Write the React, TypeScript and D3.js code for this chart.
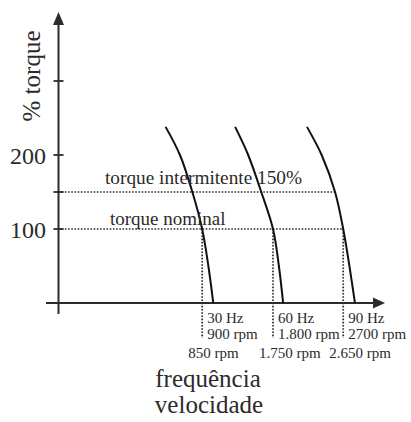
import React from "react";
import * as d3 from "d3";

const W = 411;
const H = 422;
const INK = "#2b2b2b";
const FONT = "'Liberation Serif', 'DejaVu Serif', serif";

// speed axis is schematic: 0..100 arbitrary units along the arrow
const speedDomain = [0, 100];
const torqueDomain = [0, 300];

const yTicks = [100, 150, 200, 300];
const yTickLabels = [
  { value: 200, text: "200" },
  { value: 100, text: "100" },
];

// torque levels of the curves' sample points (%)
const curveTorque = [0, 50, 100, 150, 200, 238];
// speed (units) of each curve at those torque levels
const curve30 = [47.4, 45.9, 44.0, 41.0, 37.2, 32.8];
const curve60 = [68.8, 67.5, 65.7, 62.1, 58.1, 54.1];
const curve90 = [90.8, 89.1, 87.2, 84.7, 80.6, 76.1];
const curves = [curve30, curve60, curve90];

// where each curve meets 100% torque (rated speed)
const ratedSpeed = [44.0, 65.7, 87.2];
const freqLabels = ["30 Hz", "60 Hz", "90 Hz"];
const syncLabels = ["900 rpm", "1.800 rpm", "2700 rpm"];
const ratedLabels = ["850 rpm", "1.750 rpm", "2.650 rpm"];

const intermittentTorque = 150;
const intermittentEnd = 84.7;
const nominalTorque = 100;
const nominalEnd = 87.2;

export default function App() {
  const x = d3.scaleLinear().domain(speedDomain).range([58.5, 385]);
  const y = d3.scaleLinear().domain(torqueDomain).range([303, 81]);

  const line = d3
    .line<[number, number]>()
    .x((d) => x(d[0]))
    .y((d) => y(d[1]))
    .curve(d3.curveCatmullRom.alpha(0.5));

  const x0 = x(0);
  const y0 = y(0);
  const dots = { stroke: INK, strokeWidth: 1.7, strokeDasharray: "1.6 1.6", fill: "none" };

  return (
    <svg
      width={W}
      height={H}
      viewBox={`0 0 ${W} ${H}`}
      style={{ position: "fixed", left: 0, top: 0, background: "#fff" }}
      fontFamily={FONT}
    >
      {/* dotted reference lines */}
      <line x1={x0} x2={x(intermittentEnd)} y1={y(intermittentTorque)} y2={y(intermittentTorque)} {...dots} />
      <line x1={x0} x2={x(nominalEnd)} y1={y(nominalTorque)} y2={y(nominalTorque)} {...dots} />
      {ratedSpeed.map((s, i) => (
        <line key={i} x1={x(s)} x2={x(s)} y1={y(nominalTorque)} y2={y0 + 35} {...dots} />
      ))}

      {/* axes */}
      <line x1={46} x2={x(100) - 8} y1={y0} y2={y0} stroke={INK} strokeWidth={2} />
      <path d={`M${x(100)},${y0} L${x(100) - 12},${y0 - 5.5} L${x(100) - 12},${y0 + 5.5} Z`} fill={INK} />
      <line x1={x0} x2={x0} y1={y0 + 11} y2={22} stroke={INK} strokeWidth={2} />
      <path d={`M${x0},12 L${x0 - 5.5},25 L${x0 + 5.5},25 Z`} fill={INK} />
      {yTicks.map((t) => (
        <line key={t} x1={x0 - 5} x2={x0 + 5} y1={y(t)} y2={y(t)} stroke={INK} strokeWidth={1.8} />
      ))}
      {yTickLabels.map((t) => (
        <text key={t.value} x={46} y={y(t.value) + 9} textAnchor="end" fontSize={24} fill={INK}>
          {t.text}
        </text>
      ))}
      <text transform={`translate(40,76) rotate(-90)`} textAnchor="middle" fontSize={25} fill={INK}>
        % torque
      </text>

      {/* torque-speed curves */}
      {curves.map((c, i) => (
        <path
          key={i}
          d={line(c.map((s, k) => [s, curveTorque[k]] as [number, number])) || ""}
          fill="none"
          stroke="#111"
          strokeWidth={2}
        />
      ))}

      <text x={105} y={184} fontSize={19.3} fill={INK}>
        torque intermitente 150%
      </text>
      <text x={110} y={225} fontSize={19} fill={INK}>
        torque nominal
      </text>

      {ratedSpeed.map((s, i) => (
        <g key={i} fontSize={15} fill={INK}>
          <text x={x(s) + 5} y={323}>{freqLabels[i]}</text>
          <text x={x(s) + 5} y={339}>{syncLabels[i]}</text>
          <text x={x(s) - 14} y={358}>{ratedLabels[i]}</text>
        </g>
      ))}

      <text x={208} y={387} textAnchor="middle" fontSize={25} fill={INK}>
        frequência
      </text>
      <text x={209} y={413} textAnchor="middle" fontSize={25} fill={INK}>
        velocidade
      </text>
    </svg>
  );
}
